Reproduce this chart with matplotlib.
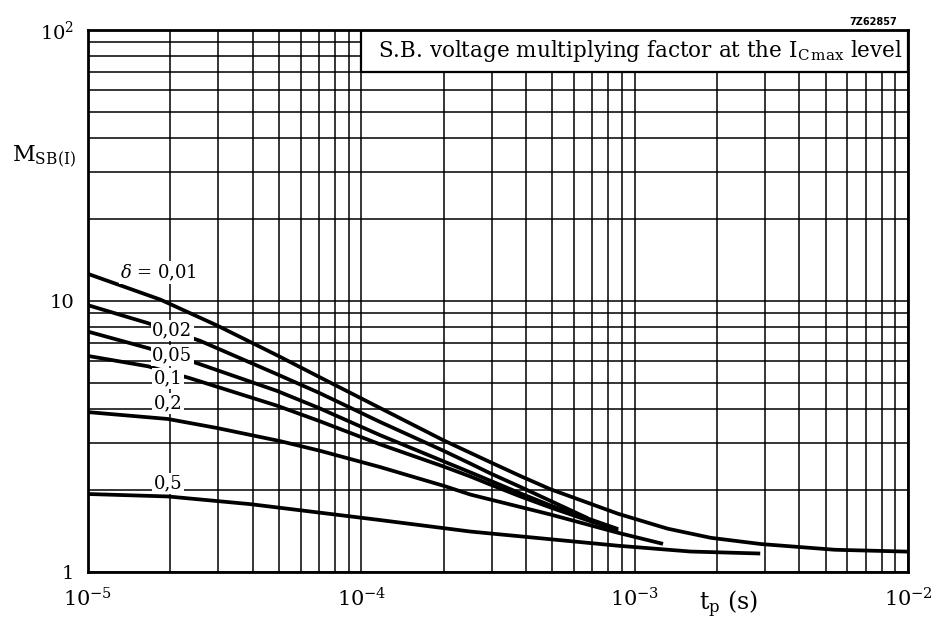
import matplotlib
matplotlib.use("Agg")
import matplotlib.pyplot as plt
from matplotlib.patches import Rectangle
from matplotlib.ticker import LogLocator, NullFormatter, FixedLocator, FixedFormatter

plt.rcParams['font.family'] = ['DejaVu Serif']
plt.rcParams['mathtext.fontset'] = 'dejavuserif'

# ---- data (t_p in s, M_SB(I)) ----
t_001 = [1e-5, 1.84e-5, 2.96e-5, 4.91e-5, 6.95e-5, 1.17e-4, 2.0e-4, 2.97e-4,
         3.82e-4, 4.92e-4, 8.7e-4, 1.32e-3, 1.9e-3, 2.9e-3, 5.4e-3, 1e-2]
m_001 = [12.59, 10.12, 8.13, 6.31, 5.27, 4.03, 3.06, 2.54,
         2.26, 2.02, 1.64, 1.445, 1.337, 1.268, 1.208, 1.189]

t_002 = [1e-5, 1.66e-5, 2.57e-5, 4.91e-5, 6.95e-5, 1.17e-4, 2.0e-4, 2.51e-4,
         2.97e-4, 3.82e-4, 4.92e-4, 6.73e-4]
m_002 = [9.65, 8.28, 7.13, 5.37, 4.60, 3.58, 2.80, 2.51,
         2.31, 2.06, 1.83, 1.58]

t_005 = [1e-5, 1.66e-5, 2.5e-5, 4.91e-5, 6.95e-5, 1.17e-4, 2.0e-4, 2.51e-4,
         2.97e-4, 3.82e-4, 4.92e-4, 8.7e-4]
m_005 = [7.71, 6.70, 5.90, 4.66, 4.04, 3.20, 2.56, 2.33,
         2.17, 1.95, 1.76, 1.44]

t_01 = [1e-5, 1.66e-5, 2.36e-5, 4.91e-5, 6.95e-5, 1.17e-4, 2.0e-4, 2.51e-4,
        2.97e-4, 3.82e-4, 4.92e-4, 8.7e-4]
m_01 = [6.27, 5.74, 5.19, 4.11, 3.62, 2.96, 2.45, 2.25,
        2.10, 1.90, 1.73, 1.42]

t_02 = [1e-5, 1.96e-5, 2.96e-5, 5.05e-5, 7.07e-5, 1.17e-4, 2.0e-4, 2.51e-4,
        4.92e-4, 8.7e-4, 1.27e-3]
m_02 = [3.89, 3.67, 3.40, 3.04, 2.80, 2.44, 2.08, 1.93,
        1.63, 1.395, 1.27]

t_05 = [1e-5, 1.96e-5, 3.92e-5, 7.07e-5, 1.17e-4, 2.51e-4, 8.7e-4, 1.6e-3, 2.88e-3]
m_05 = [1.94, 1.90, 1.78, 1.655, 1.555, 1.41, 1.25, 1.19, 1.17]

curves = [(t_001, m_001), (t_002, m_002), (t_005, m_005),
          (t_01, m_01), (t_02, m_02), (t_05, m_05)]

# curve labels and where they sit
curve_labels = [r"$\delta$ = 0,01", "0,02", "0,05", "0,1", "0,2", "0,5"]
label_t = [1.81e-5, 2.03e-5, 2.03e-5, 1.96e-5, 1.96e-5, 1.96e-5]
label_m = [12.7, 7.80, 6.30, 5.19, 4.19, 2.12]

x_ticks = [1e-5, 1e-4, 1e-3, 1e-2]
x_ticklabels = [r"$10^{-5}$", r"$10^{-4}$", r"$10^{-3}$", r"$10^{-2}$"]
y_ticks = [1, 10, 100]
y_ticklabels = ["1", "10", r"$10^2$"]

# ---- figure ----
fig = plt.figure(figsize=(9.36, 6.29), dpi=100)
ax = fig.add_axes([88/936, 1 - 572/629, 820/936, 542/629])
ax.set_xscale('log')
ax.set_yscale('log')
ax.set_xlim(1e-5, 1e-2)
ax.set_ylim(1, 100)

ax.xaxis.set_major_locator(FixedLocator(x_ticks))
ax.xaxis.set_major_formatter(FixedFormatter(x_ticklabels))
ax.yaxis.set_major_locator(FixedLocator(y_ticks))
ax.yaxis.set_major_formatter(FixedFormatter(y_ticklabels))
ax.xaxis.set_minor_locator(LogLocator(base=10, subs=range(2, 10)))
ax.yaxis.set_minor_locator(LogLocator(base=10, subs=range(2, 10)))
ax.xaxis.set_minor_formatter(NullFormatter())
ax.yaxis.set_minor_formatter(NullFormatter())
ax.tick_params(which='both', length=0)
ax.tick_params(axis='x', pad=11, labelsize=15)
ax.tick_params(axis='y', pad=10, labelsize=14)

ax.grid(which='both', color='black', lw=1.1)
ax.set_axisbelow(True)
for sp in ax.spines.values():
    sp.set_linewidth(2.0)
    sp.set_zorder(6)

for t, m in curves:
    ax.plot(t, m, color='black', lw=2.7, solid_capstyle='butt', zorder=3)

for lab, lt, lm in zip(curve_labels, label_t, label_m):
    ax.text(lt, lm, lab, fontsize=13, ha='center', va='center', zorder=4,
            bbox=dict(facecolor='white', edgecolor='none', pad=1.0))

# title box in the upper right of the grid
ax.add_patch(Rectangle((1e-4, 70), 1e-2 - 1e-4, 30, facecolor='white',
                       edgecolor='black', lw=1.6, zorder=5))
ax.text(1.15e-4, 84, r"S.B. voltage multiplying factor at the I$_{\mathrm{C\,max}}$ level",
        fontsize=15.5, ha='left', va='center', zorder=6)

fig.text(12/936, 1 - 157/629, r"M$_{\mathrm{SB(I)}}$", fontsize=16, ha='left', va='center')
fig.text(729/936, 1 - 604/629, r"t$_{\mathrm{p}}$ (s)", fontsize=17, ha='center', va='center')
fig.text(897/936, 1 - 22/629, "7Z62857", fontsize=7, fontweight='bold',
         family='DejaVu Sans', ha='right', va='center')

fig.savefig("out.png", dpi=100, facecolor='white')
